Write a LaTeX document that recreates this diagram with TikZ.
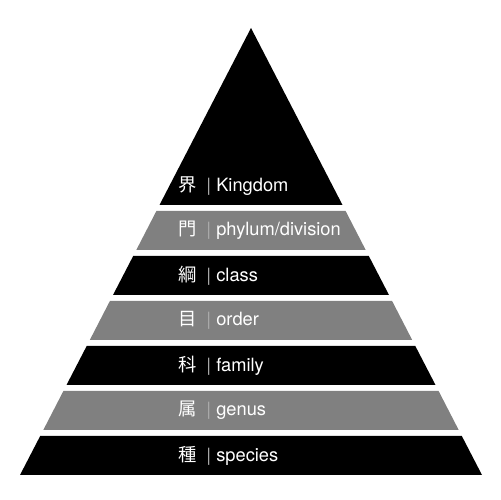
\documentclass[tikz,border=0pt]{standalone}
\usepackage{xcolor}
\usepackage{fontspec}
\usepackage{tikz}
\usetikzlibrary{positioning}
\setmainfont{TeX Gyre Heros}
\newfontfamily\kanjifont{Noto Sans CJK JP}
\definecolor{bandgray}{RGB}{128, 128, 128}
\definecolor{bargray}{RGB}{170, 170, 170}
\newcommand{\ranklabel}[2]{{\kanjifont #1}\hspace{5.5pt}{\color{bargray}|}\hspace{3pt}#2}

\begin{document}
\begin{tikzpicture}[x=0.02cm, y=0.02cm,
    rank/.style={anchor=west, inner sep=0pt, text=white, font=\fontsize{10.4}{12}\selectfont}]
    \useasboundingbox (0,0) rectangle (500,500);

    % kingdom (top triangle)
    \fill[black] (251,472) -- (342.5,295) -- (159.5,295) -- cycle;
    % phylum
    \fill[bandgray] (156.4,289) -- (345.6,289) -- (365.7,250) -- (136.3,250) -- cycle;
    % class
    \fill[black] (133.2,244) -- (368.8,244) -- (389.0,205) -- (113.0,205) -- cycle;
    % order
    \fill[bandgray] (109.9,199) -- (392.1,199) -- (412.2,160) -- (89.8,160) -- cycle;
    % family
    \fill[black] (86.7,154) -- (415.3,154) -- (435.5,115) -- (66.5,115) -- cycle;
    % genus
    \fill[bandgray] (63.4,109) -- (438.6,109) -- (458.7,70) -- (43.3,70) -- cycle;
    % species
    \fill[black] (40.2,64) -- (461.8,64) -- (482,25) -- (20,25) -- cycle;

    \node[rank] (kingdom) at (178,314) {\ranklabel{界}{Kingdom}};
    \node[rank] (phylum)  at (178,269.5) {\ranklabel{門}{phylum/division}};
    \node[rank] (class)   at (178,224.5) {\ranklabel{綱}{class}};
    \node[rank] (order)   at (178,179.5) {\ranklabel{目}{order}};
    \node[rank] (family)  at (178,134.5) {\ranklabel{科}{family}};
    \node[rank] (genus)   at (178,89.5) {\ranklabel{属}{genus}};
    \node[rank] (species) at (178,44.5) {\ranklabel{種}{species}};
\end{tikzpicture}
\end{document}
